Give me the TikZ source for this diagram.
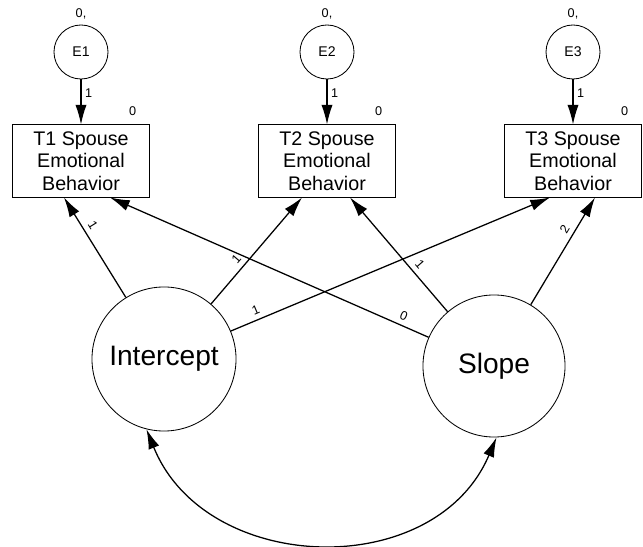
\documentclass[tikz,border=0pt]{standalone}
\usepackage{fontspec}
\setmainfont{Liberation Sans}
\usetikzlibrary{arrows.meta, positioning}

\begin{document}
\begin{tikzpicture}[x=0.025cm, y=0.025cm,
            obs/.style={draw, line width=0.7pt, minimum width=3.4cm, minimum height=1.8cm, align=center, inner sep=0pt, font=\fontsize{14}{16}\selectfont},
            err/.style={draw, circle, line width=0.6pt, minimum size=1.35cm, inner sep=0pt, font=\fontsize{10}{12}\selectfont},
            lat/.style={draw, circle, line width=0.6pt, inner sep=0pt, font=\fontsize{20}{24}\selectfont},
            load/.style={-{Latex[length=14pt, width=8pt]}, line width=0.9pt},
            cov/.style={{Latex[length=14pt, width=8pt]}-{Latex[length=14pt, width=8pt]}, line width=0.9pt},
            wt/.style={sloped, above, inner sep=3.5pt, font=\fontsize{9}{10}\selectfont},
            est/.style={inner sep=1pt, font=\fontsize{9}{10}\selectfont}
        ]
        \useasboundingbox (0,0) rectangle (643,546);

        % Errors
        \node[err] (e1) at (81,494) {E1};
        \node[err] (e2) at (327,494) {E2};
        \node[err] (e3) at (573,494) {E3};

        % The Boxes
        \node[obs] (t1) at (81,385) {T1 Spouse\\Emotional\\Behavior};
        \node[obs] (t2) at (327,385) {T2 Spouse\\Emotional\\Behavior};
        \node[obs] (t3) at (573,385) {T3 Spouse\\Emotional\\Behavior};

        % Growth factors
        \node[lat, minimum size=3.6cm] (int) at (164,187) {Intercept};
        \node[lat, minimum size=3.55cm] (slp) at (494,180) {Slope};

        % Means and intercepts
        \node[est, above=0.1cm of e1] {0,};
        \node[est, above=0.1cm of e2] {0,};
        \node[est, above=0.1cm of e3] {0,};
        \node[est, above left=0.17cm and 0.29cm of t1.north east] {0};
        \node[est, above left=0.17cm and 0.29cm of t2.north east] {0};
        \node[est, above left=0.17cm and 0.29cm of t3.north east] {0};

        % Error paths
        \draw[load] (e1) -- node[est, right, pos=0.3, inner sep=2.5pt] {1} (t1);
        \draw[load] (e2) -- node[est, right, pos=0.3, inner sep=2.5pt] {1} (t2);
        \draw[load] (e3) -- node[est, right, pos=0.3, inner sep=2.5pt] {1} (t3);

        % Loadings
        \draw[load] (int) -- node[wt, pos=0.67] {1} ([xshift=-0.425cm]t1.south);
        \draw[load] (int) -- node[wt, pos=0.36] {1} ([xshift=-0.625cm]t2.south);
        \draw[load] (int) -- node[wt, pos=0.09] {1} ([xshift=-0.575cm]t3.south);
        \draw[load] (slp) -- node[wt, pos=0.09] {0} ([xshift=0.725cm]t1.south);
        \draw[load] (slp) -- node[wt, pos=0.36] {1} ([xshift=0.575cm]t2.south);
        \draw[load] (slp) -- node[wt, pos=0.66] {2} ([xshift=0.55cm]t3.south);

        % Covariance
        \draw[cov] (int.-104) to[out=-68, in=-113, looseness=1.15] (slp.-88);

        \end{tikzpicture}
\end{document}
